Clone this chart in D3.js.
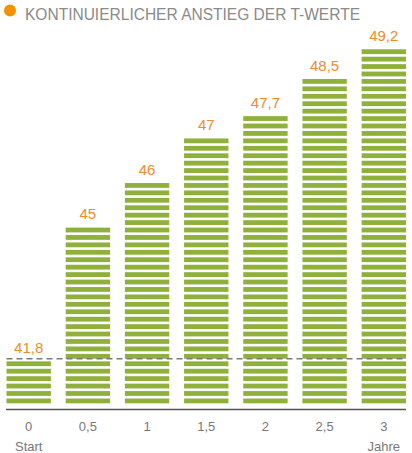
<!DOCTYPE html>
<html>
<head>
<meta charset="utf-8">
<script src="https://cdn.jsdelivr.net/npm/d3@7"></script>
<style>
  html, body { margin: 0; padding: 0; background: #fff; }
  svg { display: block; font-family: "Liberation Sans", Arial, sans-serif; }
</style>
</head>
<body>
<svg id="chart"></svg>
<script>
const title = 'KONTINUIERLICHER ANSTIEG DER T-WERTE';
const years = ['0', '0,5', '1', '1,5', '2', '2,5', '3'];
const subLabels = ['Start', '', '', '', '', '', 'Jahre'];
const tValues = [41.8, 45, 46, 47, 47.7, 48.5, 49.2];
const startValue = 41.8;

const width = 412;
const height = 453;
const base = 403.3;   // bottom of lowest stripe
const pitch = 7.43;   // stripe + gap
const stripeH = 4.8;
const gap = pitch - stripeH;

const fmt = v => String(v).replace('.', ',');

const svg = d3.select('#chart')
  .attr('width', width)
  .attr('height', height);

// header
svg.append('circle')
  .attr('cx', 10)
  .attr('cy', 10.5)
  .attr('r', 6)
  .attr('fill', '#f39200');

svg.append('text')
  .attr('x', 25)
  .attr('y', 19.5)
  .attr('font-size', 16)
  .attr('fill', '#8a8a8a')
  .attr('textLength', 335)
  .attr('lengthAdjust', 'spacingAndGlyphs')
  .text(title);

const x = d3.scaleBand()
  .domain(years)
  .range([6.5, 406])
  .paddingInner(0.25)
  .paddingOuter(0);

// value -> pixel top of the stripe stack
const y = d3.scaleLinear()
  .domain([40.74, 49.2])
  .range([base + gap, base + gap - 48 * pitch]);

const stripeCount = v => Math.round((base + gap - y(v)) / pitch);

const bars = svg.append('g').selectAll('g.bar')
  .data(tValues)
  .join('g')
  .attr('class', 'bar')
  .attr('transform', (d, i) => `translate(${x(years[i])},0)`);

bars.selectAll('rect')
  .data(d => d3.range(stripeCount(d)))
  .join('rect')
  .attr('x', 0)
  .attr('y', k => base - k * pitch - stripeH)
  .attr('width', x.bandwidth())
  .attr('height', stripeH)
  .attr('fill', '#8fb13c');

bars.append('text')
  .attr('x', x.bandwidth() / 2)
  .attr('y', d => base + gap - stripeCount(d) * pitch - 8.5)
  .attr('text-anchor', 'middle')
  .attr('font-size', 15)
  .attr('fill', '#ee8c2c')
  .text(d => fmt(d));

// reference line at start value
const refY = base + gap - stripeCount(startValue) * pitch - 2.5;
svg.append('line')
  .attr('x1', 6.5)
  .attr('x2', 406)
  .attr('y1', refY)
  .attr('y2', refY)
  .attr('stroke', '#7a7a7a')
  .attr('stroke-width', 1.5)
  .attr('stroke-dasharray', '6,4');

// x axis
const axis = svg.append('g')
  .attr('transform', 'translate(0,409.5)')
  .call(d3.axisBottom(x).tickSize(0).tickPadding(0));

axis.select('.domain')
  .attr('d', 'M6,0H406')
  .attr('stroke', '#555')
  .attr('stroke-width', 1.5);

axis.selectAll('.tick text')
  .attr('y', 21.5)
  .attr('dy', 0)
  .attr('font-size', 13)
  .attr('font-family', '"Liberation Sans", Arial, sans-serif')
  .attr('fill', '#777');

axis.selectAll('.tick')
  .append('text')
  .attr('y', 41)
  .attr('text-anchor', 'middle')
  .attr('font-size', 13)
  .attr('fill', '#777')
  .text((d, i) => subLabels[i]);
</script>
</body>
</html>
